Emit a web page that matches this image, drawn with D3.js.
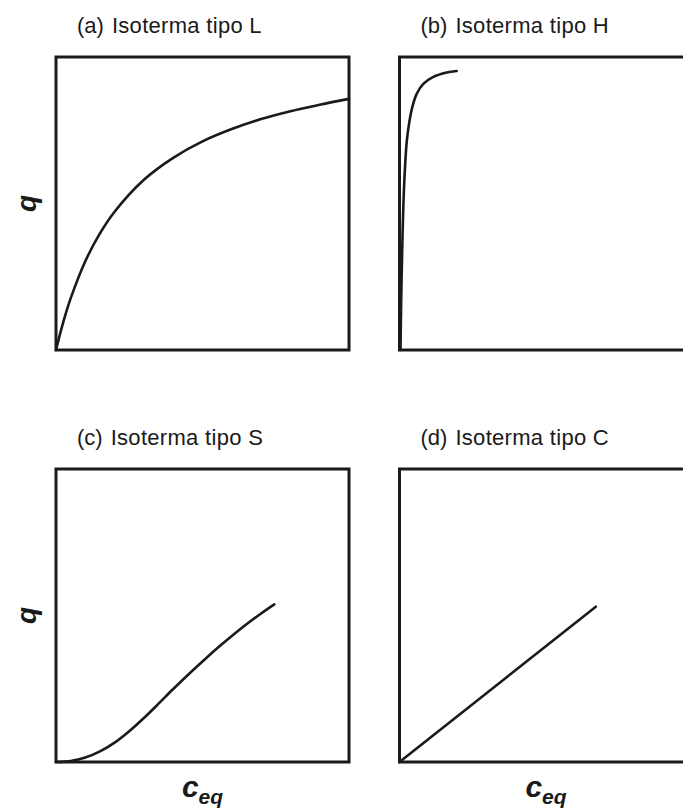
<!DOCTYPE html>
<html>
<head>
<meta charset="utf-8">
<script src="https://cdn.jsdelivr.net/npm/d3@7"></script>
<style>
  html, body { margin: 0; padding: 0; background: #fff; }
  svg { display: block; }
  .title { font-family: "Liberation Sans", Arial, sans-serif; font-size: 22px; fill: #1a1a1a; }
  .axlab { font-family: "Liberation Sans", Arial, sans-serif; font-weight: bold; font-style: italic; fill: #1a1a1a; }
</style>
</head>
<body>
<script>
// Panel titles
const panelLetters = ["(a)", "(b)", "(c)", "(d)"];
const panelNames = ["Isoterma tipo L", "Isoterma tipo H", "Isoterma tipo S", "Isoterma tipo C"];

// Equilibrium concentration (c_eq) and loading (q), arbitrary units 0–10
const cL = [0, 0.25, 0.5, 1, 1.5, 2, 3, 4, 5, 6, 7, 8, 9, 10];
const qL = [0, 0.96, 1.76, 3.03, 3.98, 4.72, 5.81, 6.56, 7.12, 7.54, 7.88, 8.15, 8.37, 8.57];

const cH = [0.034, 0.058, 0.085, 0.13, 0.18, 0.246, 0.324, 0.437, 0.587, 0.812, 1.154, 1.611, 1.952];
const qH = [0, 1.71, 3.07, 4.88, 6.08, 7.10, 7.71, 8.29, 8.74, 9.08, 9.32, 9.47, 9.52];

const cS = [0, 0.5, 1.0, 1.5, 2.0, 2.5, 3.0, 3.5, 4.0, 4.5, 5.0, 5.5, 6.0, 6.5, 7.0, 7.45];
const qS = [0, 0.03, 0.15, 0.36, 0.66, 1.05, 1.50, 1.99, 2.49, 2.97, 3.43, 3.88, 4.30, 4.70, 5.07, 5.38];

const cC = [0, 6.7];
const qC = [0, 5.3];

const seriesC = [cL, cH, cS, cC];
const seriesQ = [qL, qH, qS, qC];

const W = 683, H = 809;
const svg = d3.select("body").append("svg")
  .attr("width", W).attr("height", H);

const ink = "#1a1a1a";
const lefts = [56, 399.5];
const tops = [57, 469];
const size = 293;

const line = d3.line()
  .x(d => d[0]).y(d => d[1])
  .curve(d3.curveCatmullRom.alpha(0.5));

for (let i = 0; i < 4; i++) {
  const col = i % 2, row = Math.floor(i / 2);
  const x = d3.scaleLinear().domain([0, 10]).range([lefts[col], lefts[col] + size]);
  const y = d3.scaleLinear().domain([0, 10]).range([tops[row] + size, tops[row]]);
  const g = svg.append("g");

  // frame
  g.append("rect")
    .attr("x", x(0)).attr("y", y(10))
    .attr("width", x(10) - x(0)).attr("height", y(0) - y(10))
    .attr("fill", "none").attr("stroke", ink).attr("stroke-width", 3);

  // isotherm
  const pts = seriesC[i].map((c, k) => [x(c), y(seriesQ[i][k])]);
  g.append("path")
    .attr("d", line(pts))
    .attr("fill", "none").attr("stroke", ink)
    .attr("stroke-width", 2.6).attr("stroke-linecap", "round");

  // title
  const t = g.append("text").attr("class", "title")
    .attr("x", x(0) + 21).attr("y", y(10) - 24);
  t.append("tspan").text(panelLetters[i]);
  t.append("tspan").attr("dx", 8).attr("letter-spacing", 0.3).text(panelNames[i]);

  // q label on left panels
  if (col === 0) {
    g.append("text").attr("class", "axlab")
      .attr("font-size", 28)
      .attr("text-anchor", "middle")
      .attr("transform", `translate(${x(0) - 20},${(y(0) + y(10)) / 2}) rotate(-90)`)
      .text("q");
  }
  // c_eq label on bottom panels
  if (row === 1) {
    const lab = g.append("text").attr("class", "axlab")
      .attr("text-anchor", "middle")
      .attr("x", (x(0) + x(10)) / 2).attr("y", 797);
    lab.append("tspan").attr("font-size", 30).text("c");
    lab.append("tspan").attr("font-size", 21).attr("dy", 7).text("eq");
  }
}
</script>
</body>
</html>
